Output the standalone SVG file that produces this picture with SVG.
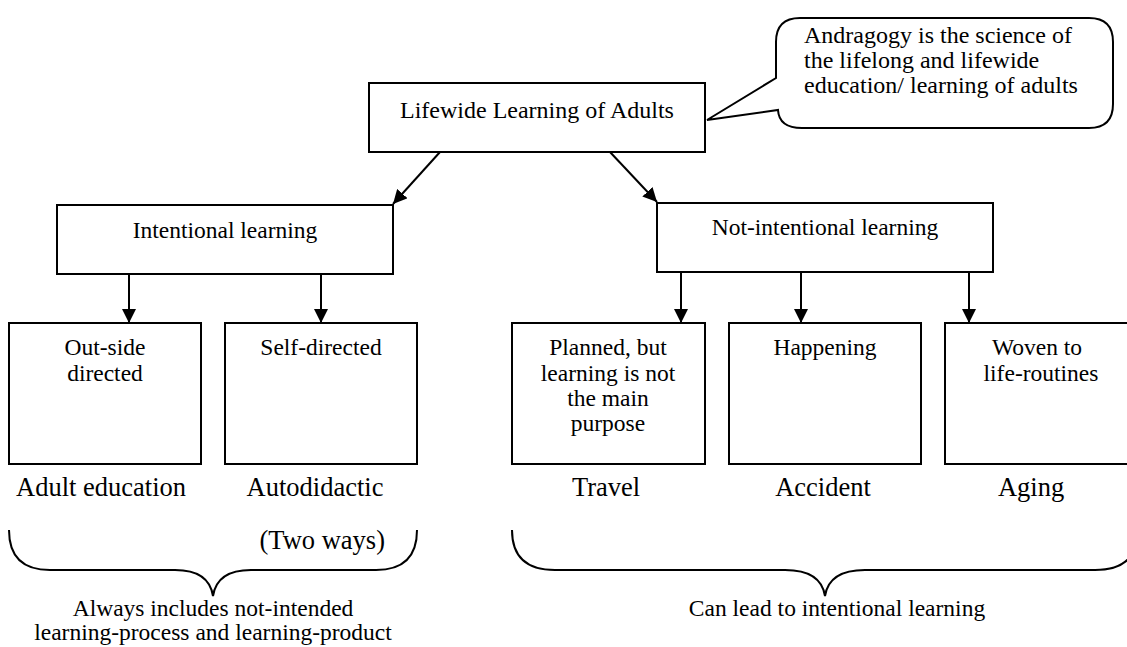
<svg xmlns="http://www.w3.org/2000/svg" width="1127" height="647" viewBox="0 0 1127 647">
<style>
  .box { fill: #fff; stroke: #000; stroke-width: 2; }
  .t { font-family: "Liberation Serif", "Times New Roman", serif; fill: #000; text-anchor: middle; }
  .s24 { font-size: 24px; }
  .s23 { font-size: 23.5px; }
  .s26 { font-size: 26.5px; }
  .s22 { font-size: 23.5px; }
  .edge { stroke: #000; stroke-width: 2; fill: none; marker-end: url(#ah); }
  .brace { stroke: #000; stroke-width: 2; fill: none; }
</style>
<defs>
  <marker id="ah" viewBox="0 0 14 14" refX="14" refY="7" markerWidth="14" markerHeight="14" markerUnits="userSpaceOnUse" orient="auto">
    <path d="M0,0 L14,7 L0,14 Z" fill="#000"/>
  </marker>
</defs>
<rect width="1127" height="647" fill="#fff"/>

<g id="connectors">
  <line class="edge" x1="440" y1="152" x2="393" y2="204"/>
  <line class="edge" x1="610" y1="152" x2="657" y2="202"/>
  <line class="edge" x1="129" y1="274" x2="129" y2="323"/>
  <line class="edge" x1="321" y1="274" x2="321" y2="323"/>
  <line class="edge" x1="681" y1="272" x2="681" y2="323"/>
  <line class="edge" x1="801" y1="272" x2="801" y2="323"/>
  <line class="edge" x1="969" y1="272" x2="969" y2="323"/>
</g>

<g id="callout">
  <path class="box" d="M800,18 H1089 Q1113,18 1113,42 V104 Q1113,128 1089,128 H802 Q779,128 778,110 L707,120 L776,78 V42 Q776,18 800,18 Z"/>
  <text class="t s24" style="text-anchor:start" x="804" y="43">Andragogy is the science of</text>
  <text class="t s24" style="text-anchor:start" x="804" y="68">the lifelong and lifewide</text>
  <text class="t s24" style="text-anchor:start" x="804" y="93">education/ learning of adults</text>
</g>

<g id="lifewide">
  <rect class="box" x="369" y="83" width="336" height="69"/>
  <text class="t s24" x="537" y="118">Lifewide Learning of Adults</text>
</g>

<g id="intentional">
  <rect class="box" x="57" y="205" width="336" height="69"/>
  <text class="t s23" x="225" y="238">Intentional learning</text>
</g>

<g id="notintentional">
  <rect class="box" x="657" y="203" width="336" height="69"/>
  <text class="t s23" x="825" y="235">Not-intentional learning</text>
</g>

<g id="outside">
  <rect class="box" x="9" y="323" width="192" height="141"/>
  <text class="t s23" x="105" y="355">Out-side</text>
  <text class="t s23" x="105" y="381">directed</text>
  <text class="t s26" x="101" y="496">Adult education</text>
</g>

<g id="selfdirected">
  <rect class="box" x="225" y="323" width="192" height="141"/>
  <text class="t s23" x="321" y="355">Self-directed</text>
  <text class="t s26" x="315" y="496">Autodidactic</text>
  <text class="t s26" style="text-anchor:end" x="385" y="549">(Two ways)</text>
</g>

<g id="planned">
  <rect class="box" x="512" y="323" width="193" height="141"/>
  <text class="t s23" x="608" y="355">Planned, but</text>
  <text class="t s23" x="608" y="381">learning is not</text>
  <text class="t s23" x="608" y="406">the main</text>
  <text class="t s23" x="608" y="431">purpose</text>
  <text class="t s26" x="606" y="496">Travel</text>
</g>

<g id="happening">
  <rect class="box" x="729" y="323" width="192" height="141"/>
  <text class="t s23" x="825" y="355">Happening</text>
  <text class="t s26" x="823" y="496">Accident</text>
</g>

<g id="woven">
  <rect class="box" x="945" y="323" width="192" height="141"/>
  <text class="t s23" x="1037" y="355">Woven to</text>
  <text class="t s23" x="1041" y="381">life-routines</text>
  <text class="t s26" x="1031" y="496">Aging</text>
</g>

<g id="brace-left">
  <path class="brace" d="M9,530 Q9,570 50,570 H175 Q209,570 213,596 Q217,570 251,570 H376 Q417,570 417,530"/>
  <text class="t s22" x="213" y="616">Always includes not-intended</text>
  <text class="t s22" x="213" y="640">learning-process and learning-product</text>
</g>

<g id="brace-right">
  <path class="brace" d="M512,530 Q512,570 555,570 H785 Q821,570 825,596 Q829,570 865,570 H1095 Q1138,570 1138,530"/>
  <text class="t s22" x="837" y="616">Can lead to intentional learning</text>
</g>
</svg>
